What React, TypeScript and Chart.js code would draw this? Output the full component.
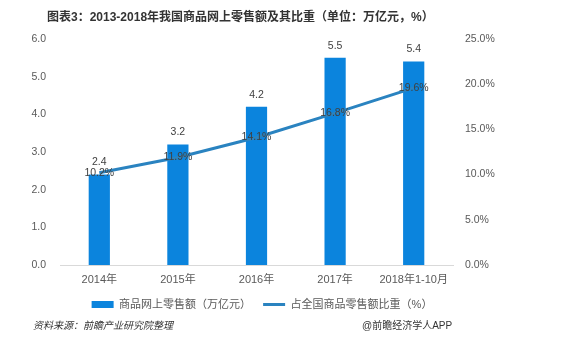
import React, { useEffect, useRef } from "react";
import { Chart, registerables } from "chart.js";

Chart.register(...registerables);

const categories = ["2014年", "2015年", "2016年", "2017年", "2018年1-10月"];
const salesValues = [2.4, 3.2, 4.2, 5.5, 5.4];
const shareValues = [10.2, 11.9, 14.1, 16.8, 19.6];
const salesLabel = "商品网上零售额（万亿元）";
const shareLabel = "占全国商品零售额比重（%）";
const titleText = "图表3：2013-2018年我国商品网上零售额及其比重（单位：万亿元，%）";
const sourceText = "资料来源：前瞻产业研究院整理";
const creditText = "@前瞻经济学人APP";

const FONT = '"Liberation Sans", "Noto Sans CJK SC", sans-serif';
const BAR_COLOR = "#0b84dd";
const LINE_COLOR = "#2a83c0";

const labelPlugin = {
  id: "valueLabels",
  afterDatasetsDraw(chart: any) {
    const ctx = chart.ctx;
    ctx.save();
    ctx.font = `10.5px ${FONT}`;
    ctx.fillStyle = "#404040";
    ctx.textAlign = "center";
    ctx.textBaseline = "middle";
    chart.data.datasets.forEach((ds: any, i: number) => {
      const meta = chart.getDatasetMeta(i);
      meta.data.forEach((el: any, j: number) => {
        const v = ds.data[j] as number;
        if (ds.type === "bar") {
          ctx.fillText(v.toFixed(1), el.x, el.y - 12);
        } else {
          ctx.fillText(v.toFixed(1) + "%", el.x, el.y);
        }
      });
    });
    ctx.restore();
  },
};

export default function App() {
  const ref = useRef<HTMLCanvasElement | null>(null);
  useEffect(() => {
    if (!ref.current) return;
    const chart = new Chart(ref.current, {
      type: "bar",
      data: {
        labels: categories,
        datasets: [
          {
            type: "bar",
            label: salesLabel,
            data: salesValues,
            backgroundColor: BAR_COLOR,
            borderWidth: 0,
            yAxisID: "y",
            order: 1,
            barPercentage: 0.27,
            categoryPercentage: 1,
          } as any,
          {
            type: "line",
            label: shareLabel,
            data: shareValues,
            borderColor: LINE_COLOR,
            backgroundColor: LINE_COLOR,
            borderWidth: 3,
            pointRadius: 0,
            tension: 0,
            yAxisID: "y1",
            order: 0,
          } as any,
        ],
      },
      options: {
        animation: false,
        responsive: false,
        devicePixelRatio: 1,
        layout: { padding: { left: 0, right: 46, top: 39, bottom: 21 } },
        plugins: {
          title: { display: false },
          legend: {
            display: true,
            position: "bottom",
            labels: {
              usePointStyle: true,
              pointStyleWidth: 22,
              boxHeight: 7,
              padding: 12,
              color: "#595959",
              font: { size: 11, family: FONT },
              sort: (a: any, b: any) => a.datasetIndex - b.datasetIndex,
              generateLabels: (c: any) => {
                const items = Chart.defaults.plugins.legend.labels.generateLabels(c);
                items.forEach((it: any) => {
                  it.pointStyle = it.datasetIndex === 0 ? "rect" : "line";
                });
                return items;
              },
            },
          },
          tooltip: { enabled: false },
        },
        scales: {
          x: {
            grid: { display: false, drawTicks: false },
            border: { display: true, color: "#d9d9d9", width: 1 },
            ticks: { color: "#595959", font: { size: 11, family: FONT }, padding: 8, maxRotation: 0 },
            afterFit: (s: any) => {
              s.height = 22;
            },
          },
          y: {
            position: "left",
            min: 0,
            max: 6,
            grid: { display: false, drawTicks: false },
            border: { display: false },
            ticks: {
              stepSize: 1,
              color: "#595959",
              font: { size: 10.5, family: FONT },
              padding: 14,
              callback: (v: any) => Number(v).toFixed(1),
            },
            afterFit: (s: any) => {
              s.width = 60;
            },
          },
          y1: {
            position: "right",
            min: 0,
            max: 25,
            grid: { display: false, drawTicks: false },
            border: { display: false },
            ticks: {
              stepSize: 5,
              color: "#595959",
              font: { size: 10.5, family: FONT },
              padding: 12,
              callback: (v: any) => Number(v).toFixed(1) + "%",
            },
            afterFit: (s: any) => {
              s.width = 71;
            },
          },
        },
      } as any,
      plugins: [labelPlugin],
    });
    return () => chart.destroy();
  }, []);

  return (
    <div style={{ position: "absolute", left: 0, top: 0, width: 570, height: 341, background: "#fff" }}>
      <canvas ref={ref} width={570} height={341} style={{ display: "block" }} />
      <div
        style={{
          position: "absolute",
          left: 47,
          top: 9,
          fontSize: 12,
          fontWeight: "bold",
          color: "#333",
          fontFamily: FONT,
          whiteSpace: "nowrap",
          lineHeight: "16px",
        }}
      >
        {titleText}
      </div>
      <div
        style={{
          position: "absolute",
          left: 33,
          top: 319,
          fontSize: 10,
          fontStyle: "italic",
          color: "#333",
          fontFamily: FONT,
          whiteSpace: "nowrap",
          lineHeight: "14px",
        }}
      >
        {sourceText}
      </div>
      <div
        style={{
          position: "absolute",
          left: 362,
          top: 319,
          fontSize: 10,
          color: "#333",
          fontFamily: FONT,
          whiteSpace: "nowrap",
          lineHeight: "14px",
        }}
      >
        {creditText}
      </div>
    </div>
  );
}
